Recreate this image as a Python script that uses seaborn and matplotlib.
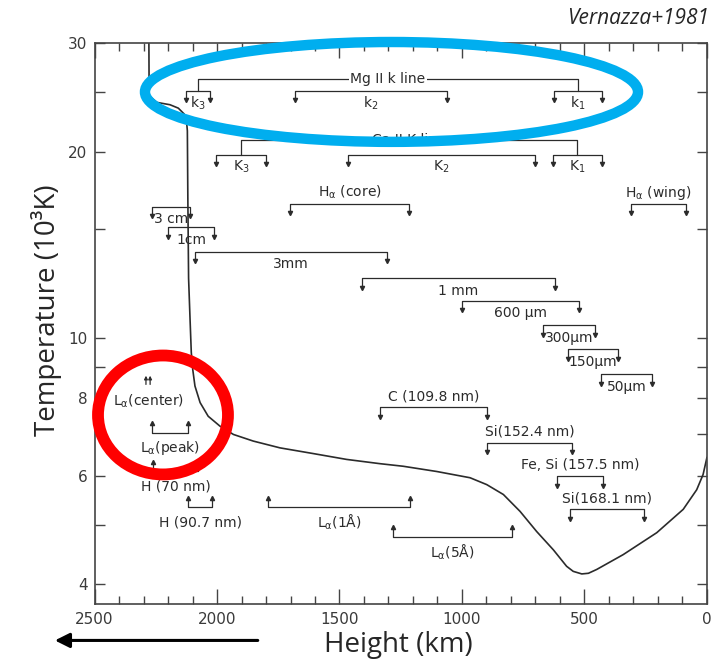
import matplotlib
matplotlib.use("Agg")
import matplotlib.pyplot as plt
from matplotlib.patches import Ellipse
from matplotlib.ticker import MultipleLocator, FixedLocator, FuncFormatter, NullFormatter
import seaborn as sns

# ----------------------------------------------------------
# Temperature profile (height in km, temperature in 10^3 K)
# ----------------------------------------------------------
height_km = [2278, 2277, 2246, 2192, 2158, 2134, 2124, 2121, 2119, 2116,
             2110, 2105, 2099, 2090, 2069, 2036, 1988, 1933, 1852, 1743,
             1607, 1471, 1335, 1240, 1103, 967, 899, 831, 763, 695,
             627, 573, 546, 511, 484, 450, 342, 205, 97, 42, 16, 0]
temp_kK = [30.0, 24.65, 24.05, 23.84, 23.54, 23.03, 22.35, 21.63, 16.8, 12.5,
           10.73, 9.49, 8.90, 8.37, 7.87, 7.48, 7.21, 6.99, 6.82, 6.65,
           6.51, 6.37, 6.27, 6.21, 6.09, 5.95, 5.80, 5.59, 5.25, 4.87,
           4.55, 4.28, 4.20, 4.16, 4.17, 4.23, 4.47, 4.85, 5.29, 5.69, 6.02, 6.42]

# ----------------------------------------------------------
# Formation height ranges of lines / continua
# ----------------------------------------------------------
range_labels = ["k$_3$", "k$_2$", "k$_1$", "K$_3$", "K$_2$", "K$_1$",
                r"H$_\alpha$ (core)", r"H$_\alpha$ (wing)",
                "3 cm", "1cm", "3mm", "1 mm", "600 µm", "300µm", "150µm", "50µm",
                "C (109.8 nm)", "Si(152.4 nm)", "Fe, Si (157.5 nm)", "Si(168.1 nm)",
                r"L$_\alpha$(peak)", "H (70 nm)", "H (90.7 nm)",
                r"L$_\alpha$(1Å)", r"L$_\alpha$(5Å)"]
range_top = [2127, 1682, 624, 2004, 1465, 629, 1702, 310,
             2265, 2200, 2090, 1408, 1000, 669, 567, 433,
             1335, 898, 612, 559, 2265, 2261, 2118, 1792, 1282]
range_bottom = [2029, 1061, 429, 1800, 702, 429, 1216, 86,
                2110, 2012, 1306, 620, 522, 457, 363, 224,
                898, 551, 424, 257, 2118, 2078, 2020, 1212, 796]
range_temp = [25.1, 25.1, 25.1, 19.8, 19.8, 19.8, 16.5, 16.5,
              16.3, 15.1, 13.8, 12.5, 11.5, 10.5, 9.6, 8.75,
              7.73, 6.78, 5.98, 5.29, 7.04, 6.09, 5.33, 5.33, 4.78]
range_legs = ["down"] * 20 + ["up"] * 5
range_text = ["below"] * 6 + ["above", "above"] + ["below"] * 8 + ["above"] * 4 + ["below"] * 5

# line groups (Mg II k, Ca II K) joining first and last component
group_labels = ["Mg II k line", "Ca II K line"]
group_temp = [26.2, 20.9]
group_members = [(0, 2), (3, 5)]

# Ly-alpha centre (lower limits)
lya_center_h = [2290, 2273]
lya_center_t = 8.42

# ----------------------------------------------------------
# Plot
# ----------------------------------------------------------
sns.set_theme(style="ticks")
plt.rcParams["font.family"] = ["DejaVu Sans"]
plt.rcParams["mathtext.default"] = "regular"

ink = "#2b2b2b"

fig = plt.figure(figsize=(7.22, 6.64), dpi=100)
ax = fig.add_axes([0.1309, 0.0904, 0.8483, 0.8449])

sns.lineplot(x=height_km, y=temp_kK, sort=False, estimator=None,
             color=ink, linewidth=1.2, ax=ax)

ax.set_yscale("log")
ax.set_xlim(2500, 0)
ax.set_ylim(3.72, 30)

# brackets
leg_ratio = 0.965
for lab, h1, h2, t, leg, side in zip(range_labels, range_top, range_bottom,
                                     range_temp, range_legs, range_text):
    t_end = t * leg_ratio if leg == "down" else t / leg_ratio
    ax.plot([h1, h1, h2, h2], [t_end, t, t, t_end], color=ink, lw=0.9)
    ax.plot([h1, h2], [t_end, t_end], ls="none",
            marker="v" if leg == "down" else "^", ms=3, color=ink)
    if side == "above":
        dy = 8
    elif leg == "up":
        dy = -11
    else:
        dy = -9
    ax.annotate(lab, xy=((h1 + h2) / 2, t), xytext=(0, dy),
                textcoords="offset points", ha="center", va="center",
                fontsize=10, color=ink)

for lab, t, (i, j) in zip(group_labels, group_temp, group_members):
    ha = (range_top[i] + range_bottom[i]) / 2
    hb = (range_top[j] + range_bottom[j]) / 2
    ax.plot([ha, ha, hb, hb], [range_temp[i], t, t, range_temp[j]],
            color=ink, lw=0.9)
    ax.text((ha + hb) / 2, t, lab, ha="center", va="center", fontsize=10,
            color=ink, bbox=dict(facecolor="white", edgecolor="none", pad=1))

for h in lya_center_h:
    ax.annotate("", xy=(h, lya_center_t / 0.968), xytext=(h, lya_center_t),
                arrowprops=dict(arrowstyle="-|>", lw=0.9, color=ink,
                                mutation_scale=5, shrinkA=0, shrinkB=0))
ax.annotate(r"L$_\alpha$(center)", xy=(sum(lya_center_h) / 2, lya_center_t),
            xytext=(0, -12), textcoords="offset points", ha="center",
            va="center", fontsize=10, color=ink)

# axes styling
ax.xaxis.set_major_locator(MultipleLocator(500))
ax.xaxis.set_minor_locator(MultipleLocator(100))
ax.yaxis.set_major_locator(FixedLocator([4, 6, 8, 10, 20, 30]))
ax.yaxis.set_major_formatter(FuncFormatter(lambda v, p: f"{v:g}"))
ax.yaxis.set_minor_locator(FixedLocator([5, 7, 9, 15, 25]))
ax.yaxis.set_minor_formatter(NullFormatter())

ax.tick_params(which="both", direction="in", top=True, right=True,
               color="#444444", width=1.0, labelsize=11, labelcolor="#3a3a3a")
ax.tick_params(axis="x", which="major", length=11, pad=6)
ax.tick_params(axis="x", which="minor", length=6)
ax.tick_params(axis="y", which="both", length=7, pad=5)
for sp in ax.spines.values():
    sp.set_color("#444444")
    sp.set_linewidth(1.2)

fig.text(0.5513, 0.028, "Height (km)", ha="center", va="center",
         fontsize=20, family=["Open Sans", "DejaVu Sans"])
fig.text(0.065, 0.533, "Temperature (10³K)", ha="center", va="center",
         rotation=90, fontsize=20, family=["Open Sans", "DejaVu Sans"])
fig.text(0.982, 0.972, "Vernazza+1981", ha="right", va="center",
         fontsize=15, style="italic", family=["Open Sans", "DejaVu Sans"])

# highlight marks
ax.add_patch(Ellipse((0.4849, 0.9127), 0.805, 0.178, transform=ax.transAxes,
                     fill=False, edgecolor="#00AEEF", lw=7.5, clip_on=False,
                     zorder=5))
ax.add_patch(Ellipse((0.1118, 0.3369), 0.2122, 0.212, transform=ax.transAxes,
                     fill=False, edgecolor="#FF0000", lw=8.5, clip_on=False,
                     zorder=5))

ax.annotate("", xy=(0.076, 0.0355), xytext=(0.357, 0.0355),
            xycoords="figure fraction", textcoords="figure fraction",
            arrowprops=dict(arrowstyle="-|>", lw=2.2, color="black",
                            mutation_scale=22, shrinkA=0, shrinkB=0),
            annotation_clip=False)

fig.savefig("out.png", dpi=100)
